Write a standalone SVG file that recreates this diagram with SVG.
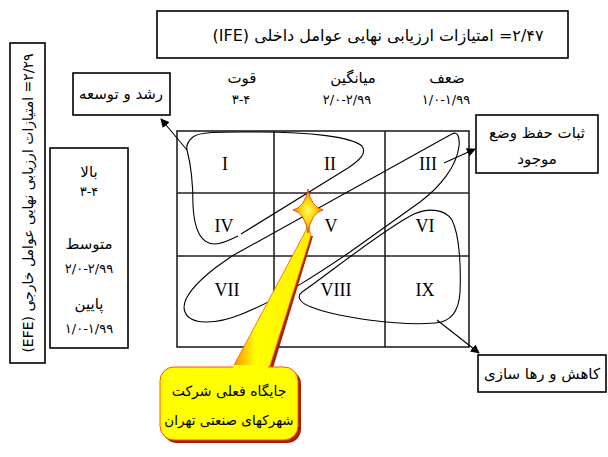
<svg xmlns="http://www.w3.org/2000/svg" width="608" height="457" viewBox="0 0 608 457">
<style>
.box{fill:#fff;stroke:#000;stroke-width:1.6}
.fa{font-family:"DejaVu Sans",sans-serif;direction:rtl;fill:#000}
.num{font-family:"DejaVu Sans",sans-serif;fill:#000;font-size:13px}
.rn{font-family:"Liberation Serif",serif;font-size:18px;fill:#000;text-anchor:middle}
.grid{fill:none;stroke:#222;stroke-width:1.6}
.loop{fill:none;stroke:#000;stroke-width:1.1}
.arr{fill:none;stroke:#000;stroke-width:1.1;marker-end:url(#ah)}
</style>
<defs>
<marker id="ah" viewBox="0 0 10 10" refX="9" refY="5" markerWidth="9" markerHeight="9" markerUnits="userSpaceOnUse" orient="auto">
<path d="M0,0 L10,5 L0,10 z" fill="#000"/>
</marker>
<radialGradient id="starg" cx="0.5" cy="0.5" r="0.5">
<stop offset="0" stop-color="#FFFF66"/>
<stop offset="0.5" stop-color="#FFD000"/>
<stop offset="1" stop-color="#FF6600"/>
</radialGradient>
<linearGradient id="ptrg" x1="0" y1="0" x2="1" y2="0">
<stop offset="0" stop-color="#FF8800"/>
<stop offset="0.3" stop-color="#FFFF00"/>
<stop offset="1" stop-color="#FFEE00"/>
</linearGradient>
</defs>

<g id="title">
<rect class="box" x="157" y="11" width="411" height="47"/>
<text class="fa" x="378" y="41" font-size="16" text-anchor="middle">۲/۴۷= امتیازات ارزیابی نهایی عوامل داخلی (IFE)</text>
</g>

<g id="efe">
<rect class="box" x="10" y="43" width="35" height="320"/>
<text class="fa" transform="translate(33,203) rotate(-90)" x="0" y="0" font-size="14" text-anchor="middle">۲/۲۹= امتیازات ارزیابی نهایی عوامل خارجی (EFE)</text>
</g>

<g id="col-headers">
<text class="fa" x="242" y="83" font-size="15" text-anchor="middle">قوت</text>
<text class="num" x="241" y="104" text-anchor="middle">۳-۴</text>
<text class="fa" x="353" y="83" font-size="15" text-anchor="middle">میانگین</text>
<text class="num" x="347" y="104" text-anchor="middle">۲/۰-۲/۹۹</text>
<text class="fa" x="447" y="83" font-size="15" text-anchor="middle">ضعف</text>
<text class="num" x="446" y="104" text-anchor="middle">۱/۰-۱/۹۹</text>
</g>

<g id="row-headers">
<rect class="box" x="50" y="148" width="78" height="200"/>
<text class="fa" x="89" y="177" font-size="15" text-anchor="middle">بالا</text>
<text class="num" x="89" y="196" text-anchor="middle">۳-۴</text>
<text class="fa" x="89" y="249" font-size="15" text-anchor="middle">متوسط</text>
<text class="num" x="89" y="273" text-anchor="middle">۲/۰-۲/۹۹</text>
<text class="fa" x="89" y="309" font-size="15" text-anchor="middle">پایین</text>
<text class="num" x="89" y="333" text-anchor="middle">۱/۰-۱/۹۹</text>
</g>

<g id="matrix">
<rect class="grid" x="177" y="131" width="292" height="216"/>
<line class="grid" x1="274" y1="131" x2="274" y2="347"/>
<line class="grid" x1="385" y1="131" x2="385" y2="347"/>
<line class="grid" x1="177" y1="193" x2="469" y2="193"/>
<line class="grid" x1="177" y1="256" x2="469" y2="256"/>
<text class="rn" x="225" y="170">I</text>
<text class="rn" x="330" y="170">II</text>
<text class="rn" x="428" y="170">III</text>
<text class="rn" x="224" y="232">IV</text>
<text class="rn" x="331" y="232">V</text>
<text class="rn" x="425" y="232">VI</text>
<text class="rn" x="227" y="296">VII</text>
<text class="rn" x="336" y="296">VIII</text>
<text class="rn" x="425" y="296">IX</text>
</g>

<g id="box-growth">
<rect class="box" x="73" y="73" width="97" height="42"/>
<text class="fa" x="121" y="99" font-size="15" text-anchor="middle">رشد و توسعه</text>
</g>

<g id="box-hold">
<rect class="box" x="476" y="115" width="122" height="58"/>
<text class="fa" x="537" y="138" font-size="15" text-anchor="middle">ثبات حفظ وضع</text>
<text class="fa" x="537" y="164" font-size="15" text-anchor="middle">موجود</text>
</g>

<g id="box-harvest">
<rect class="box" x="478" y="355" width="128" height="37"/>
<text class="fa" x="542" y="379" font-size="15" text-anchor="middle">کاهش و رها سازی</text>
</g>

<g id="connectors">
<path class="loop" d="M187,150 C191,165 193,185 193,205 C194,228 200,244 215,244 C222,244 230,240 238,236"/>
<path class="loop" d="M241,234 L348,168 C360,160 367,153 362,146 C352,137 310,132 260,132 C225,132 200,131 193,137 C188,141 186,145 187,150"/>
<path class="loop" d="M452,134 C457,131 460,136 459,146 C457,166 440,187 420,202 L350,252 C322,271 282,298 242,314 C215,325 190,325 185,312 C180,300 196,283 215,268 L232,256 L450,135 Z"/>
<path class="loop" d="M302,292 C322,279 382,230 414,214 C430,207 446,210 452,220 C460,236 461,270 460,292 C459,310 452,322 435,323 C400,326 340,318 311,307 C298,302 297,296 302,292 Z"/>
<path class="arr" d="M187,150 L161,119"/>
<path class="arr" d="M444,163 L475,149"/>
<path class="arr" d="M437,320 L479,353"/>
</g>

<g id="callout">
<rect x="163" y="370" width="138" height="73" rx="14" fill="#A02000"/>
<polygon points="236,368 306,236 313,236 273,368" fill="#A02000"/>
<polygon points="232,369 303,236 308,226 311,236 269,369" fill="url(#ptrg)" stroke="#FF5500" stroke-width="0.8"/>
<rect x="160" y="367" width="138" height="73" rx="14" fill="#FFFF00" stroke="#FF5500" stroke-width="1"/>
<rect x="233" y="365" width="35" height="4" fill="#FFFF00"/>
<path d="M308,189 Q311,207 323,210 Q311,213 308,233 Q305,213 293,210 Q305,207 308,189 Z" fill="url(#starg)" stroke="#D04000" stroke-width="0.8"/>
<text class="fa" x="229" y="396" font-size="14" text-anchor="middle">جایگاه فعلی شرکت</text>
<text class="fa" x="229" y="425" font-size="13.5" text-anchor="middle">شهرکهای صنعتی تهران</text>
</g>
</svg>
